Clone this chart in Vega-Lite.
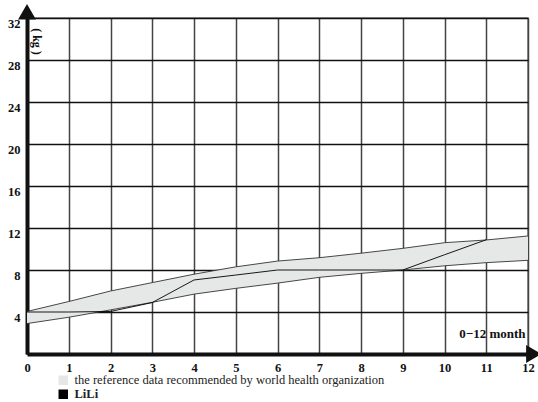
{
  "$schema": "https://vega.github.io/schema/vega-lite/v6.json",
  "width": 501,
  "height": 336,
  "autosize": "none",
  "padding": {"left": 27, "top": 18, "right": 10, "bottom": 48},
  "background": "white",
  "config": {
    "view": {"stroke": "#777", "strokeWidth": 1.5},
    "font": "Liberation Serif"
  },
  "datasets": {
    "who": [
      {"month": 0, "low": 2.9, "high": 4.05},
      {"month": 1, "low": 3.5, "high": 5.0},
      {"month": 2, "low": 4.2, "high": 6.0},
      {"month": 3, "low": 4.92, "high": 6.8},
      {"month": 4, "low": 5.7, "high": 7.6},
      {"month": 5, "low": 6.25, "high": 8.3},
      {"month": 6, "low": 6.75, "high": 8.85},
      {"month": 7, "low": 7.3, "high": 9.17},
      {"month": 8, "low": 7.68, "high": 9.6},
      {"month": 9, "low": 8.0, "high": 10.06},
      {"month": 10, "low": 8.4, "high": 10.6},
      {"month": 11, "low": 8.7, "high": 10.86},
      {"month": 12, "low": 8.92, "high": 11.24}
    ],
    "lili": [
      {"month": 0, "kg": 4.0},
      {"month": 1, "kg": 4.0},
      {"month": 2, "kg": 4.05},
      {"month": 3, "kg": 4.9},
      {"month": 4, "kg": 7.05},
      {"month": 5, "kg": 7.52},
      {"month": 6, "kg": 8.0},
      {"month": 7, "kg": 8.0},
      {"month": 8, "kg": 8.0},
      {"month": 9, "kg": 8.0},
      {"month": 10, "kg": 9.45},
      {"month": 11, "kg": 10.88}
    ]
  },
  "encoding": {
    "x": {
      "type": "quantitative",
      "scale": {"domain": [0, 12], "nice": false, "zero": false},
      "axis": {
        "values": [0, 1, 2, 3, 4, 5, 6, 7, 8, 9, 10, 11, 12],
        "grid": true,
        "gridColor": "#444",
        "gridWidth": 1.5,
        "domainColor": "#111",
        "domainWidth": 4,
        "ticks": false,
        "labelFont": "Liberation Serif",
        "labelFontWeight": "bold",
        "labelFontSize": 12.5,
        "labelColor": "#111",
        "labelPadding": 7,
        "labelFlush": false,
        "title": "0−12 month",
        "titleFont": "Liberation Serif",
        "titleFontWeight": "bold",
        "titleFontSize": 13,
        "titleColor": "#111",
        "titleAlign": "right",
        "titleBaseline": "middle",
        "titleX": 498,
        "titleY": -21
      }
    },
    "y": {
      "type": "quantitative",
      "scale": {"domain": [0, 32], "nice": false, "zero": true},
      "axis": {
        "values": [4, 8, 12, 16, 20, 24, 28, 32],
        "grid": true,
        "gridColor": "#111",
        "gridWidth": 1.5,
        "domainColor": "#111",
        "domainWidth": 4,
        "ticks": false,
        "labelFont": "Liberation Serif",
        "labelFontWeight": "bold",
        "labelFontSize": 12.5,
        "labelColor": "#111",
        "labelPadding": 7,
        "labelOffset": 5,
        "labelFlush": false,
        "title": "(  kg  )",
        "titleFont": "Liberation Serif",
        "titleFontWeight": "bold",
        "titleFontSize": 12,
        "titleColor": "#111",
        "titleAngle": 90,
        "titleAlign": "center",
        "titleBaseline": "middle",
        "titleX": 9,
        "titleY": 23
      }
    }
  },
  "layer": [
    {
      "data": {"name": "who"},
      "mark": {"type": "area", "opacity": 1},
      "encoding": {
        "x": {"field": "month"},
        "y": {"field": "high"},
        "y2": {"field": "low"},
        "color": {
          "datum": "the reference data recommended by world health organization",
          "scale": {
            "domain": ["the reference data recommended by world health organization", "LiLi"],
            "range": ["#e6e7e7", "#000000"]
          },
          "legend": {
            "title": null,
            "orient": "none",
            "legendX": 30,
            "legendY": 356,
            "symbolType": "square",
            "symbolSize": 90,
            "symbolStrokeWidth": 0,
            "labelFont": "Liberation Serif",
            "labelFontSize": 12.5,
            "labelFontWeight": {"expr": "datum.label == 'LiLi' ? 'bold' : 'normal'"},
            "labelColor": "#222",
            "labelOffset": 5,
            "labelLimit": 500,
            "rowPadding": 1,
            "encode": {
              "symbols": {"update": {"fill": {"scale": "color", "field": "value"}, "stroke": {"value": "transparent"}, "shape": {"value": "square"}}}
            }
          }
        }
      }
    },
    {
      "data": {"name": "who"},
      "mark": {"type": "line", "color": "#333", "strokeWidth": 0.9},
      "encoding": {"x": {"field": "month"}, "y": {"field": "high"}}
    },
    {
      "data": {"name": "who"},
      "mark": {"type": "line", "color": "#333", "strokeWidth": 0.9},
      "encoding": {"x": {"field": "month"}, "y": {"field": "low"}}
    },
    {
      "data": {"name": "lili"},
      "mark": {"type": "line", "strokeWidth": 0.9},
      "encoding": {
        "x": {"field": "month"},
        "y": {"field": "kg"},
        "color": {"datum": "LiLi"}
      }
    },
    {
      "data": {"values": [{}]},
      "mark": {"type": "point", "shape": "triangle-right", "filled": true, "color": "#111", "size": 320, "opacity": 1, "clip": false},
      "encoding": {"x": {"datum": 12.14}, "y": {"datum": 0}}
    },
    {
      "data": {"values": [{}]},
      "mark": {"type": "point", "shape": "triangle-up", "filled": true, "color": "#111", "size": 320, "opacity": 1, "clip": false},
      "encoding": {"x": {"datum": 0}, "y": {"datum": 32.6}}
    }
  ]
}
